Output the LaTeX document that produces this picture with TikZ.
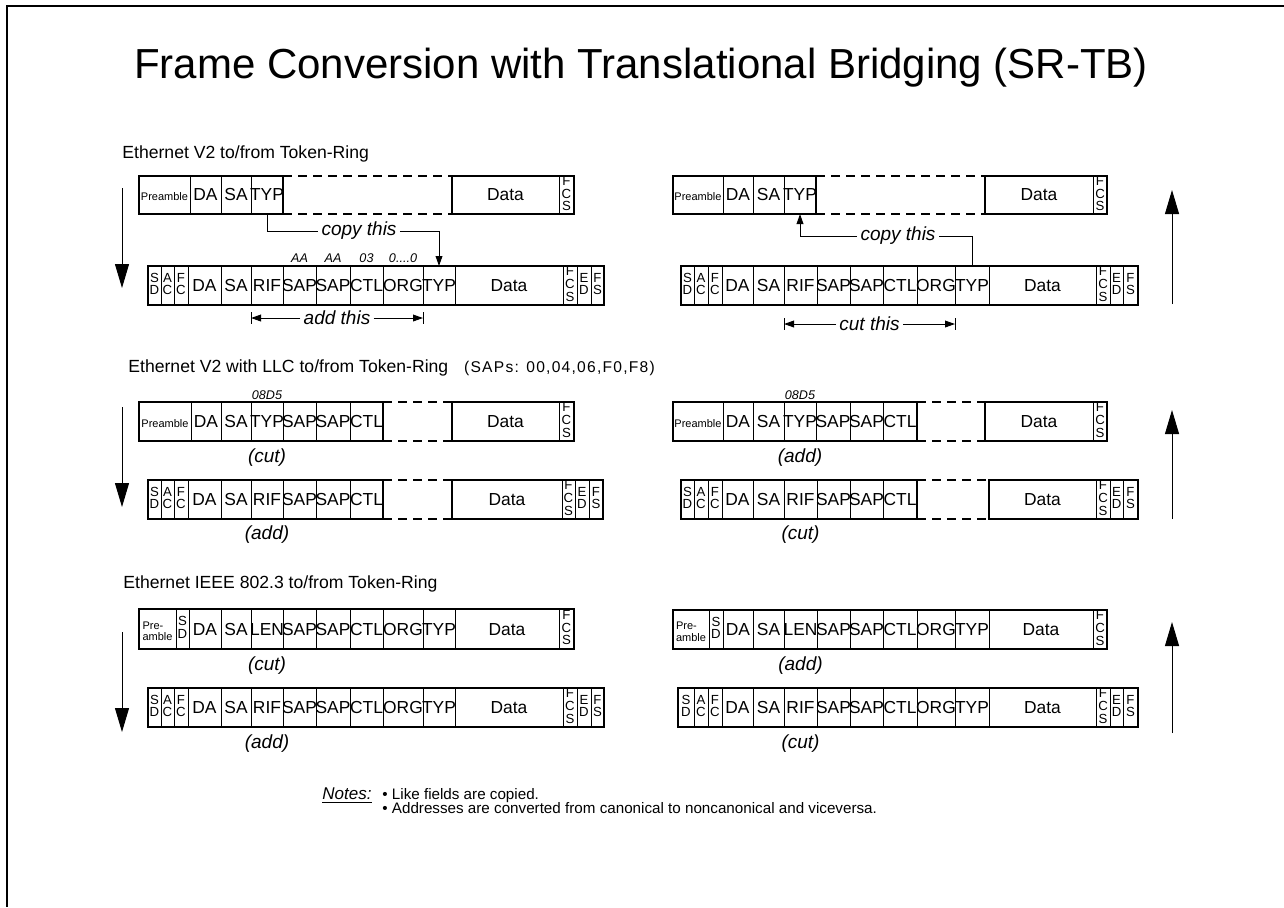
\documentclass[tikz,border=0pt]{standalone}
\usepackage{fontspec}
\setmainfont{Liberation Sans}
\usetikzlibrary{arrows.meta,calc}

% stacked letters inside narrow fields (FCS, SD, ED ...)
\newcommand\stk[1]{\raisebox{1.1pt}{\fontsize{6.6}{6.1}\selectfont\begin{tabular}{@{}c@{}}#1\end{tabular}}}
% very small text for the preamble field
\newcommand\tinyt[1]{{\fontsize{5.5}{5.8}\selectfont #1}}

\tikzset{
  x=0.5pt, y=-0.5pt,
  field/.style={draw, line width=0.5pt, inner sep=0pt, outer sep=0pt,
                font=\fontsize{8.7}{10}\selectfont},
  rowedge/.style={line width=1pt},
  gapline/.style={line width=1pt, dash pattern=on 4.5pt off 3pt},
  bigarrow/.style={line width=0.5pt, -{Triangle[length=12pt,width=7pt]}},
  conn/.style={line width=0.5pt},
  smalltip/.style={-{Triangle[length=5pt,width=3.4pt]}},
  lbl/.style={font=\fontsize{9.5}{11}\selectfont\itshape, inner sep=1.5pt},
  tag/.style={font=\fontsize{6.3}{7}\selectfont\itshape, inner sep=0.5pt, anchor=south},
  heading/.style={font=\fontsize{8.8}{10}\selectfont, anchor=base west, inner sep=0pt},
  notetext/.style={font=\fontsize{7.6}{8}\selectfont, anchor=base west, inner sep=0pt},
}

% one field: name, left, right, top, bottom, text (centred on a fixed cap height)
\newcommand\fld[6]{%
  \pgfmathsetlengthmacro\fldw{(#3-#2)*0.5pt}%
  \pgfmathsetlengthmacro\fldh{(#5-#4)*0.5pt}%
  \node[field, minimum width=\fldw, minimum height=\fldh, anchor=north west]
    (#1) at (#2,#4) {\makebox[0pt]{\vphantom{H}\smash{#6}}};}
% a row of fields: prefix, top, bottom, list of name/left/right/text
\newcommand\frow[4]{%
  \foreach \fn/\fa/\fb/\ft in {#4}{\fld{#1\fn}{\fa}{\fb}{#2}{#3}{\ft}}}
% heavy outline around a run of fields
\newcommand\outline[2]{\draw[rowedge] (#1.north west) rectangle (#2.south east);}
% dashed top and bottom edges across an omitted stretch
\newcommand\gap[2]{%
  \draw[gapline] (#1.north east) -- (#2.north west);
  \draw[gapline] (#1.south east) -- (#2.south west);}

\begin{document}
\begin{tikzpicture}
\fill[white] (0,0) rectangle (1284,907);
\useasboundingbox (0,0) rectangle (1284,907);
\draw[line width=0.8pt] (1284,6) -- (7,6) -- (7,907);

\node[font=\fontsize{21}{24}\selectfont, anchor=base, inner sep=0pt] (title)
  at (641,78) {Frame Conversion with Translational Bridging (SR-TB)};

% ---------------- Ethernet V2 ----------------
\node[heading] (h1) at (122,158) {Ethernet V2 to/from Token-Ring};

\frow{p}{176}{214}{pre/139/190/{\tinyt{Preamble}}, da/190/221/DA, sa/221/251/SA,
  typ/251/283/TYP, data/452/559/Data, fcs/559/574/{\stk{F\\C\\S}}}
\outline{ppre}{ptyp}\gap{ptyp}{pdata}\outline{pdata}{pfcs}

\frow{q}{266}{305}{sd/148/161/{\stk{S\\D}}, ac/161/174/{\stk{A\\C}}, fc/174/188/{\stk{F\\C}},
  da/188/221/DA, sa/221/251/SA, rif/251/283/RIF, sapa/283/316/SAP, sapb/316/350/SAP,
  ctl/350/383/CTL, org/383/423/ORG, typ/423/455/TYP, data/455/563/Data,
  fcs/563/577/{\stk{F\\C\\S}}, ed/577/591/{\stk{E\\D}}, fs/591/604/{\stk{F\\S}}}
\outline{qsd}{qfs}

\node[tag] (qa1) at ($(qsapa.north)+(0,-2)$) {AA};
\node[tag] (qa2) at ($(qsapb.north)+(0,-2)$) {AA};
\node[tag] (qa3) at ($(qctl.north)+(0,-2)$) {03};
\node[tag] (qa4) at ($(qorg.north)+(0,-2)$) {0....0};

\node[lbl] (copyl) at (359,231) {copy this};
\draw[conn] (ptyp.south) |- (copyl.west);
\draw[conn, smalltip] (copyl.east) -| (qtyp.north);

\coordinate (addl) at ($(qrif.south west)+(0,13)$);
\coordinate (addr) at ($(qorg.south east)+(0,13)$);
\node[lbl, fill=white] (addt) at ($(addl)!0.5!(addr)$) {add this};
\draw[conn, smalltip] (addt.west) -- (addl);
\draw[conn, smalltip] (addt.east) -- (addr);
\draw[conn] ($(addl)+(0,-6)$) -- ($(addl)+(0,6)$);
\draw[conn] ($(addr)+(0,-6)$) -- ($(addr)+(0,6)$);

\frow{r}{176}{214}{pre/673/723/{\tinyt{Preamble}}, da/723/753/DA, sa/753/784/SA,
  typ/784/816/TYP, data/985/1093/Data, fcs/1093/1107/{\stk{F\\C\\S}}}
\outline{rpre}{rtyp}\gap{rtyp}{rdata}\outline{rdata}{rfcs}

\frow{s}{266}{305}{sd/681/694/{\stk{S\\D}}, ac/694/708/{\stk{A\\C}}, fc/708/722/{\stk{F\\C}},
  da/722/753/DA, sa/753/784/SA, rif/784/817/RIF, sapa/817/850/SAP, sapb/850/883/SAP,
  ctl/883/917/CTL, org/917/955/ORG, typ/955/989/TYP, data/989/1096/Data,
  fcs/1096/1110/{\stk{F\\C\\S}}, ed/1110/1123/{\stk{E\\D}}, fs/1123/1138/{\stk{F\\S}}}
\outline{ssd}{sfs}

\node[lbl] (copyr) at (898,236) {copy this};
\draw[conn] (styp.north) |- (copyr.east);
\draw[conn, smalltip] (copyr.west) -| (rtyp.south);

\coordinate (cutl) at ($(srif.south west)+(0,19)$);
\coordinate (cutr) at ($(sorg.south east)+(0,19)$);
\node[lbl, fill=white] (cutt) at ($(cutl)!0.5!(cutr)$) {cut this};
\draw[conn, smalltip] (cutt.west) -- (cutl);
\draw[conn, smalltip] (cutt.east) -- (cutr);
\draw[conn] ($(cutl)+(0,-6)$) -- ($(cutl)+(0,6)$);
\draw[conn] ($(cutr)+(0,-6)$) -- ($(cutr)+(0,6)$);

\coordinate (d1a) at (122,188); \coordinate (d1b) at (122,288);
\draw[bigarrow] (d1a) -- (d1b);
\coordinate (u1a) at (1172,304); \coordinate (u1b) at (1172,190);
\draw[bigarrow] (u1a) -- (u1b);

% ---------------- Ethernet V2 with LLC ----------------
\node[heading] (h2) at (128,372) {Ethernet V2 with LLC to/from Token-Ring\hspace{0.9em}{\fontsize{7.8}{8}\selectfont\addfontfeatures{LetterSpace=8}(SAPs: 00,04,06,F0,F8)}};

\frow{t}{402}{441}{pre/139/191/{\tinyt{Preamble}}, da/191/221/DA, sa/221/251/SA,
  typ/251/283/TYP, sapa/283/316/SAP, sapb/316/350/SAP, ctl/350/383/CTL,
  data/452/559/Data, fcs/559/574/{\stk{F\\C\\S}}}
\outline{tpre}{tctl}\gap{tctl}{tdata}\outline{tdata}{tfcs}
\node[tag] (t08) at ($(ttyp.north)+(0,-1)$) {08D5};
\node[lbl] (tcut) at ($(ttyp.south)+(0,17)$) {(cut)};

\frow{u}{480}{519}{sd/148/161/{\stk{S\\D}}, ac/161/174/{\stk{A\\C}}, fc/174/188/{\stk{F\\C}},
  da/188/221/DA, sa/221/251/SA, rif/251/283/RIF, sapa/283/316/SAP, sapb/316/350/SAP,
  ctl/350/383/CTL, data/452/562/Data,
  fcs/562/575/{\stk{F\\C\\S}}, ed/575/589/{\stk{E\\D}}, fs/589/603/{\stk{F\\S}}}
\outline{usd}{uctl}\gap{uctl}{udata}\outline{udata}{ufs}
\node[lbl] (uadd) at ($(urif.south)+(0,16)$) {(add)};

\frow{v}{402}{441}{pre/673/723/{\tinyt{Preamble}}, da/723/753/DA, sa/753/784/SA,
  typ/784/816/TYP, sapa/816/850/SAP, sapb/850/883/SAP, ctl/883/917/CTL,
  data/985/1093/Data, fcs/1093/1107/{\stk{F\\C\\S}}}
\outline{vpre}{vctl}\gap{vctl}{vdata}\outline{vdata}{vfcs}
\node[tag] (v08) at ($(vtyp.north)+(0,-1)$) {08D5};
\node[lbl] (vadd) at ($(vtyp.south)+(0,17)$) {(add)};

\frow{w}{480}{519}{sd/681/694/{\stk{S\\D}}, ac/694/708/{\stk{A\\C}}, fc/708/722/{\stk{F\\C}},
  da/722/753/DA, sa/753/784/SA, rif/784/817/RIF, sapa/817/850/SAP, sapb/850/883/SAP,
  ctl/883/917/CTL, data/989/1096/Data,
  fcs/1096/1110/{\stk{F\\C\\S}}, ed/1110/1123/{\stk{E\\D}}, fs/1123/1138/{\stk{F\\S}}}
\outline{wsd}{wctl}\gap{wctl}{wdata}\outline{wdata}{wfs}
\node[lbl] (wcut) at ($(wrif.south)+(0,16)$) {(cut)};

\coordinate (d2a) at (122,407); \coordinate (d2b) at (122,507);
\draw[bigarrow] (d2a) -- (d2b);
\coordinate (u2a) at (1172,519); \coordinate (u2b) at (1172,410);
\draw[bigarrow] (u2a) -- (u2b);

% ---------------- Ethernet IEEE 802.3 ----------------
\node[heading] (h3) at (123,588) {Ethernet IEEE 802.3 to/from Token-Ring};

\frow{x}{609}{649}{pre/139/176/{\tinyt{\begin{tabular}{@{}l@{}}Pre-\\amble\end{tabular}}},
  sd/176/189/{\stk{S\\D}}, da/189/221/DA, sa/221/251/SA, len/251/283/LEN,
  sapa/283/316/SAP, sapb/316/350/SAP, ctl/350/383/CTL, org/383/423/ORG,
  typ/423/455/TYP, data/455/559/Data, fcs/559/574/{\stk{F\\C\\S}}}
\outline{xpre}{xfcs}
\node[lbl] (xcut) at ($(xlen.south)+(0,17)$) {(cut)};

\frow{y}{688}{727}{sd/148/161/{\stk{S\\D}}, ac/161/174/{\stk{A\\C}}, fc/174/188/{\stk{F\\C}},
  da/188/221/DA, sa/221/251/SA, rif/251/283/RIF, sapa/283/316/SAP, sapb/316/350/SAP,
  ctl/350/383/CTL, org/383/423/ORG, typ/423/455/TYP, data/455/563/Data,
  fcs/563/577/{\stk{F\\C\\S}}, ed/577/591/{\stk{E\\D}}, fs/591/604/{\stk{F\\S}}}
\outline{ysd}{yfs}
\node[lbl] (yadd) at ($(yrif.south)+(0,17)$) {(add)};

\frow{z}{610}{649}{pre/673/709/{\tinyt{\begin{tabular}{@{}l@{}}Pre-\\amble\end{tabular}}},
  sd/709/723/{\stk{S\\D}}, da/723/753/DA, sa/753/784/SA, len/784/817/LEN,
  sapa/817/850/SAP, sapb/850/883/SAP, ctl/883/917/CTL, org/917/955/ORG,
  typ/955/989/TYP, data/989/1093/Data, fcs/1093/1107/{\stk{F\\C\\S}}}
\outline{zpre}{zfcs}
\node[lbl] (zadd) at ($(zlen.south)+(0,17)$) {(add)};

\frow{k}{688}{727}{sd/678/694/{\stk{S\\D}}, ac/694/708/{\stk{A\\C}}, fc/708/722/{\stk{F\\C}},
  da/722/753/DA, sa/753/784/SA, rif/784/817/RIF, sapa/817/850/SAP, sapb/850/883/SAP,
  ctl/883/917/CTL, org/917/955/ORG, typ/955/989/TYP, data/989/1096/Data,
  fcs/1096/1110/{\stk{F\\C\\S}}, ed/1110/1123/{\stk{E\\D}}, fs/1123/1138/{\stk{F\\S}}}
\outline{ksd}{kfs}
\node[lbl] (kcut) at ($(krif.south)+(0,17)$) {(cut)};

\coordinate (d3a) at (122,632); \coordinate (d3b) at (122,732);
\draw[bigarrow] (d3a) -- (d3b);
\coordinate (u3a) at (1172,733); \coordinate (u3b) at (1172,622);
\draw[bigarrow] (u3a) -- (u3b);

% ---------------- notes ----------------
\node[font=\fontsize{8.5}{10}\selectfont\itshape, anchor=base east, inner sep=0pt]
  (notes) at (372,799) {\underline{Notes:}};
\node[notetext] (n1) at (382,799) {• Like fields are copied.};
\node[notetext] (n2) at (382,813) {• Addresses are converted from canonical to noncanonical and viceversa.};
\end{tikzpicture}
\end{document}
